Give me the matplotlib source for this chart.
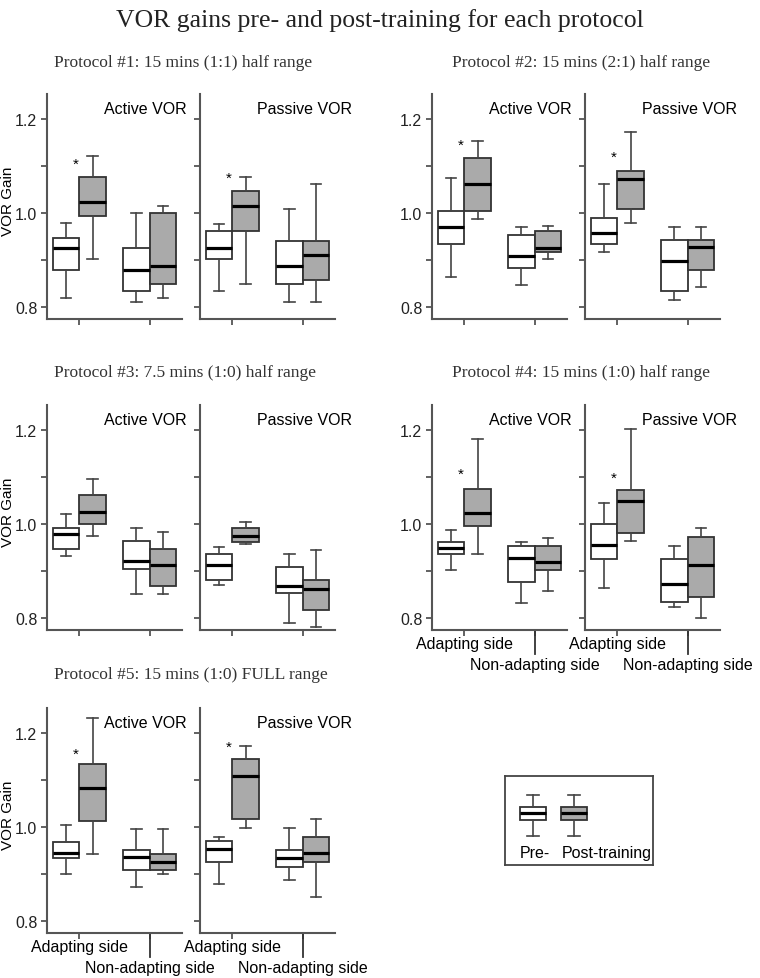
import matplotlib
matplotlib.use("Agg")
import matplotlib.pyplot as plt
import matplotlib.transforms as mtrans

# ---------------- data: [whislo, q1, median, q3, whishi] ----------------
# order in each list: pre adapting, post adapting, pre non-adapting, post non-adapting
p1_active = [[0.820, 0.880, 0.926, 0.948, 0.979],
             [0.902, 0.994, 1.024, 1.076, 1.121],
             [0.811, 0.834, 0.880, 0.926, 1.000],
             [0.820, 0.850, 0.888, 1.000, 1.016]]
p1_passive = [[0.834, 0.902, 0.926, 0.963, 0.977],
              [0.850, 0.963, 1.016, 1.046, 1.077],
              [0.811, 0.850, 0.888, 0.940, 1.008],
              [0.811, 0.858, 0.910, 0.940, 1.061]]
p2_active = [[0.865, 0.935, 0.970, 1.004, 1.075],
             [0.987, 1.004, 1.062, 1.118, 1.153],
             [0.848, 0.883, 0.909, 0.953, 0.970],
             [0.903, 0.918, 0.926, 0.961, 0.972]]
p2_passive = [[0.917, 0.935, 0.958, 0.989, 1.062],
              [0.980, 1.008, 1.072, 1.090, 1.173],
              [0.815, 0.835, 0.899, 0.943, 0.971],
              [0.844, 0.880, 0.928, 0.943, 0.971]]
p3_active = [[0.933, 0.948, 0.979, 0.992, 1.021],
             [0.975, 1.000, 1.026, 1.062, 1.096],
             [0.852, 0.904, 0.922, 0.965, 0.992],
             [0.852, 0.869, 0.913, 0.948, 0.983]]
p3_passive = [[0.870, 0.881, 0.913, 0.936, 0.952],
              [0.958, 0.963, 0.974, 0.991, 1.004],
              [0.790, 0.853, 0.868, 0.908, 0.936],
              [0.781, 0.817, 0.863, 0.882, 0.945]]
p4_active = [[0.902, 0.936, 0.950, 0.963, 0.988],
             [0.936, 0.997, 1.023, 1.075, 1.180],
             [0.832, 0.876, 0.927, 0.953, 0.963],
             [0.858, 0.902, 0.919, 0.953, 0.971]]
p4_passive = [[0.864, 0.926, 0.955, 1.000, 1.045],
              [0.964, 0.982, 1.050, 1.072, 1.201],
              [0.823, 0.835, 0.872, 0.926, 0.953],
              [0.800, 0.846, 0.913, 0.972, 0.991]]
p5_active = [[0.900, 0.934, 0.945, 0.969, 1.004],
             [0.943, 1.013, 1.084, 1.135, 1.232],
             [0.873, 0.908, 0.937, 0.952, 0.996],
             [0.900, 0.908, 0.926, 0.943, 0.996]]
p5_passive = [[0.879, 0.925, 0.953, 0.971, 0.979],
              [0.999, 1.017, 1.109, 1.145, 1.172],
              [0.888, 0.915, 0.935, 0.952, 0.998],
              [0.851, 0.925, 0.944, 0.979, 1.017]]

# significance star heights (None = no star)  [active, passive]
stars_p1 = [1.105, 1.076]
stars_p2 = [1.146, 1.120]
stars_p3 = [None, None]
stars_p4 = [1.106, 1.098]
stars_p5 = [1.156, 1.171]

protocol_titles = ["Protocol #1: 15 mins (1:1) half range",
                   "Protocol #2: 15 mins (2:1) half range",
                   "Protocol #3: 7.5 mins (1:0) half range",
                   "Protocol #4: 15 mins (1:0) half range",
                   "Protocol #5: 15 mins (1:0) FULL range"]
condition_labels = ["Active VOR", "Passive VOR"]
side_labels = ["Adapting side", "Non-adapting side"]
legend_labels = ["Pre-", "Post-training"]
legend_sample = [[29, 45, 52, 58, 70], [29, 45, 52, 58, 70]]
y_ticks = [0.8, 0.9, 1.0, 1.1, 1.2]
y_ticklabels = ["0.8", "", "1.0", "", "1.2"]
y_label = "VOR Gain"
main_title = "VOR gains pre- and post-training for each protocol"

# ---------------- figure ----------------
W, H = 760, 979
fig = plt.figure(figsize=(W / 100, H / 100), dpi=100)
fig.patch.set_facecolor("white")

SANS = "Liberation Sans"
SERIF = "Liberation Serif"
SPINE_C = "#555555"
EDGE_C = "#333333"
POST_C = "#aaaaaa"

def px_axes(x0, x1, y0, y1):
    return fig.add_axes([x0 / W, 1 - y1 / H, (x1 - x0) / W, (y1 - y0) / H])

AX_H = 225
YLIM = (0.775, 1.253)
XLIM = (0.08, 3.92)
group_pos = [1, 3]
half = 0.375
box_w = 0.75

def draw_sub(ax, data, label, star, first, side_lbls):
    stats = [dict(whislo=d[0], q1=d[1], med=d[2], q3=d[3], whishi=d[4], fliers=[])
             for d in data]
    pos = [group_pos[0] - half, group_pos[0] + half, group_pos[1] - half, group_pos[1] + half]
    bp = ax.bxp(stats, positions=pos, widths=box_w, patch_artist=True,
                showfliers=False, manage_ticks=False, capwidths=0.3,
                boxprops=dict(edgecolor=EDGE_C, linewidth=1.3),
                medianprops=dict(color="black", linewidth=2.3),
                whiskerprops=dict(color="#444444", linewidth=1.2),
                capprops=dict(color="#444444", linewidth=1.2))
    for i, b in enumerate(bp["boxes"]):
        b.set_facecolor("white" if i % 2 == 0 else POST_C)
    ax.set_xlim(*XLIM)
    ax.set_ylim(*YLIM)
    for s in ["top", "right"]:
        ax.spines[s].set_visible(False)
    for s in ["left", "bottom"]:
        ax.spines[s].set_color(SPINE_C)
        ax.spines[s].set_linewidth(1.5)
    ax.set_yticks(y_ticks)
    if first:
        ax.set_yticklabels(y_ticklabels, fontsize=11.5, family=SANS, color="#222222")
    else:
        ax.set_yticklabels([])
    ax.set_xticks(group_pos)
    ax.set_xticklabels([])
    ax.tick_params(axis="both", direction="out", length=4, width=1.3,
                   color=SPINE_C, pad=3)
    ax.text(0.425, 0.934, label, transform=ax.transAxes, ha="left", va="center",
            fontsize=11.5, family=SANS, clip_on=False)
    if star is not None:
        ax.text(group_pos[0] - 0.1, star, "*", ha="center", va="center",
                fontsize=11, family=SANS)
    if side_lbls:
        tr = mtrans.blended_transform_factory(ax.transData, ax.transAxes)
        ax.plot([group_pos[1], group_pos[1]], [0, -0.107], transform=tr,
                color="#333333", linewidth=1.3, clip_on=False)
        ax.text(group_pos[0], -0.062, side_labels[0], transform=tr, ha="center",
                va="center", fontsize=11.5, family=SANS)
        ax.text(group_pos[1], -0.152, side_labels[1], transform=tr, ha="center",
                va="center", fontsize=11.5, family=SANS)

panels = [
    (p1_active, p1_passive, stars_p1, 47, 95, 54, 63, False, True),
    (p2_active, p2_passive, stars_p2, 432, 95, 452, 63, False, False),
    (p3_active, p3_passive, stars_p3, 47, 406, 54, 373, False, True),
    (p4_active, p4_passive, stars_p4, 432, 406, 452, 373, True, False),
    (p5_active, p5_passive, stars_p5, 47, 709, 54, 675, True, True),
]

for k, (act, pas, st, x0, ytop, tx, ty, sides, ylab) in enumerate(panels):
    axA = px_axes(x0, x0 + 135, ytop, ytop + AX_H)
    axP = px_axes(x0 + 153, x0 + 288, ytop, ytop + AX_H)
    draw_sub(axA, act, condition_labels[0], st[0], True, sides)
    draw_sub(axP, pas, condition_labels[1], st[1], False, sides)
    fig.text(tx / W, 1 - ty / H, protocol_titles[k], ha="left", va="center",
             fontsize=12.5, family=SERIF, color="#333333")
    if ylab:
        fig.text(8 / W, 1 - (ytop + AX_H / 2 - 6) / H, y_label, rotation=90,
                 ha="center", va="center", fontsize=11, family=SANS)

# main title
fig.text(0.5, 1 - 21 / H, main_title, ha="center", va="center",
         fontsize=18.5, family=SERIF, color="#222222")

# ---------------- legend ----------------
lax = px_axes(505, 653, 777, 866)
lstats = [dict(whislo=d[0], q1=d[1], med=d[2], q3=d[3], whishi=d[4], fliers=[])
          for d in legend_sample]
lbp = lax.bxp(lstats, positions=[28, 69], widths=26, patch_artist=True,
              showfliers=False, manage_ticks=False, capwidths=12,
              boxprops=dict(edgecolor=EDGE_C, linewidth=1.3),
              medianprops=dict(color="black", linewidth=2.3),
              whiskerprops=dict(color="#444444", linewidth=1.2),
              capprops=dict(color="#444444", linewidth=1.2))
lbp["boxes"][0].set_facecolor("white")
lbp["boxes"][1].set_facecolor(POST_C)
lax.set_xlim(0, 148)
lax.set_ylim(0, 89)
lax.set_xticks([])
lax.set_yticks([])
for s in lax.spines.values():
    s.set_color("#444444")
    s.set_linewidth(1.3)
lax.text(15, 12, legend_labels[0], ha="left", va="center", fontsize=11.5, family=SANS)
lax.text(57, 12, legend_labels[1], ha="left", va="center", fontsize=11.5, family=SANS)

fig.savefig("out.png", dpi=100, facecolor="white")
